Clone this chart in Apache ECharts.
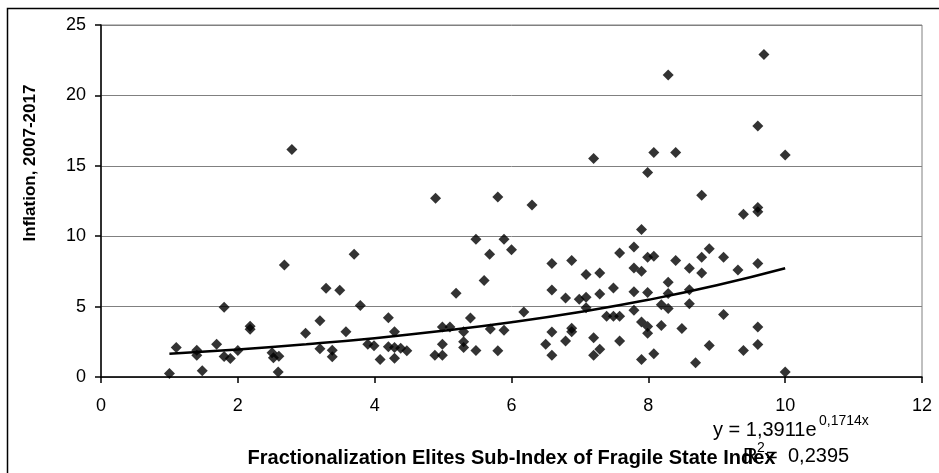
<!doctype html>
<html>
<head>
<meta charset="utf-8">
<title>Inflation vs Fractionalization Elites</title>
<script src="https://cdn.jsdelivr.net/npm/echarts@6/dist/echarts.min.js"></script>
<style>
  html, body { margin: 0; height: 100%; background: #fff; }
  #chart { width: 939px; height: 473px; }
</style>
</head>
<body>
<div id="chart"></div>
<script>
// Fractionalization Elites sub-index (x) and inflation 2007-2017 (y)
const elites = [
  1.0, 1.1, 1.4, 1.4, 1.48, 1.69, 1.8, 1.8, 1.89, 2.0,
  2.18, 2.18, 2.5, 2.52, 2.6, 2.59, 2.68, 2.79, 2.99, 3.2,
  3.2, 3.29, 3.38, 3.38, 3.49, 3.58, 3.7, 3.79, 3.9, 3.99,
  4.08, 4.2, 4.2, 4.29, 4.29, 4.29, 4.38, 4.47, 4.88, 4.89,
  4.99, 4.99, 4.99, 5.1, 5.19, 5.3, 5.3, 5.3, 5.4, 5.48,
  5.48, 5.6, 5.68, 5.69, 5.8, 5.8, 5.89, 5.89, 6.0, 6.18,
  6.3, 6.5, 6.59, 6.59, 6.59, 6.59, 6.79, 6.79, 6.88, 6.88,
  6.88, 6.99, 7.09, 7.09, 7.09, 7.2, 7.2, 7.2, 7.29, 7.29,
  7.29, 7.39, 7.49, 7.49, 7.58, 7.58, 7.58, 7.79, 7.79, 7.79,
  7.79, 7.9, 7.9, 7.9, 7.9, 7.99, 7.99, 7.99, 7.99, 7.99,
  8.08, 8.08, 8.08, 8.19, 8.19, 8.29, 8.29, 8.29, 8.29, 8.4,
  8.4, 8.49, 8.6, 8.6, 8.6, 8.69, 8.78, 8.78, 8.78, 8.89,
  8.89, 9.1, 9.1, 9.31, 9.39, 9.39, 9.6, 9.6, 9.6, 9.6,
  9.6, 9.6, 9.69, 10.0, 10.0
];
const inflation = [
  0.25, 2.1, 1.9, 1.55, 0.45, 2.33, 4.95, 1.45, 1.31, 1.88,
  3.6, 3.4, 1.72, 1.37, 1.47, 0.36, 7.95, 16.16, 3.1, 4.0,
  2.0, 6.3, 1.9, 1.44, 6.17, 3.22, 8.71, 5.08, 2.32, 2.22,
  1.24, 4.2, 2.15, 3.22, 2.09, 1.33, 2.05, 1.87, 1.54, 12.7,
  3.55, 2.32, 1.54, 3.55, 5.95, 3.22, 2.5, 2.1, 4.19, 9.79,
  1.88, 6.85, 8.72, 3.41, 12.79, 1.87, 9.79, 3.32, 9.03, 4.62,
  12.22, 2.32, 8.06, 6.18, 3.2, 1.55, 5.61, 2.55, 8.28, 3.46,
  3.22, 5.53, 7.28, 5.66, 4.92, 15.52, 2.78, 1.55, 7.39, 5.9,
  1.97, 4.31, 6.32, 4.31, 8.81, 4.31, 2.55, 9.24, 7.75, 6.06,
  4.74, 10.47, 7.51, 3.91, 1.24, 14.53, 8.51, 6.0, 3.58, 3.1,
  15.95, 8.58, 1.66, 5.13, 3.66, 21.44, 6.73, 5.93, 4.86, 15.95,
  8.28, 3.44, 7.72, 6.2, 5.21, 1.02, 12.9, 8.51, 7.39, 9.1,
  2.23, 8.51, 4.44, 7.6, 11.56, 1.89, 17.82, 12.04, 11.73, 8.06,
  3.55, 2.31, 22.91, 15.76, 0.36
];

// exponential trend line as drawn (y = 1,3911e^0,1714x)
const trendX = [1, 2, 3, 4, 5, 6, 7, 8, 9, 10];
const trendY = [1.65, 1.96, 2.33, 2.76, 3.28, 3.89, 4.62, 5.48, 6.51, 7.72];

const xTitle = 'Fractionalization Elites Sub-Index of Fragile State Index';
const yTitle = 'Inflation, 2007-2017';

const chart = echarts.init(document.getElementById('chart'));
const font = 'Liberation Sans, Arial, sans-serif';

const points = elites.map((x, i) => [x, inflation[i]]);
const trend = trendX.map((x, i) => [x, trendY[i]]);

chart.setOption({
  animation: false,
  backgroundColor: '#ffffff',
  textStyle: { fontFamily: font },
  grid: {
    left: 101, right: 17, top: 25, bottom: 96,
    show: true, borderColor: '#808080', borderWidth: 1
  },
  xAxis: {
    type: 'value', min: 0, max: 12, interval: 2,
    name: xTitle, nameLocation: 'middle', nameGap: 71,
    nameTextStyle: { fontFamily: font, fontSize: 20, fontWeight: 'bold', color: '#000' },
    axisLine: { lineStyle: { color: '#000', width: 1.5 } },
    axisTick: { show: true, length: 6, lineStyle: { color: '#000', width: 1.5 } },
    axisLabel: { fontFamily: font, fontSize: 18, color: '#000', margin: 20 },
    splitLine: { show: false }
  },
  yAxis: {
    type: 'value', min: 0, max: 25, interval: 5,
    axisLine: { show: true, lineStyle: { color: '#000', width: 1.5 } },
    axisTick: { show: true, length: 6, lineStyle: { color: '#000', width: 1.5 } },
    axisLabel: { fontFamily: font, fontSize: 18, color: '#000', margin: 15 },
    splitLine: { show: true, lineStyle: { color: '#808080', width: 1 } }
  },
  series: [
    {
      type: 'scatter',
      data: points,
      symbol: 'diamond',
      symbolSize: 11,
      itemStyle: { color: '#000' },
      z: 3
    },
    {
      type: 'line',
      data: trend,
      smooth: true,
      showSymbol: false,
      lineStyle: { color: '#000', width: 2.5 },
      z: 4
    }
  ],
  graphic: [
    // outer chart frame
    { type: 'rect', shape: { x: 7.5, y: 8.5, width: 1000, height: 1000 },
      style: { fill: null, stroke: '#000', lineWidth: 1.5 }, silent: true },
    { type: 'text', x: 30, y: 163, rotation: Math.PI / 2,
      style: { text: yTitle, font: 'bold 17px ' + font, fill: '#000', align: 'center', verticalAlign: 'middle' } },
    { type: 'text', x: 713, y: 430,
      style: { text: 'y = 1,3911e', font: '20px ' + font, fill: '#000', align: 'left', verticalAlign: 'middle' } },
    { type: 'text', x: 819, y: 421,
      style: { text: '0,1714x', font: '14px ' + font, fill: '#000', align: 'left', verticalAlign: 'middle' } },
    { type: 'text', x: 743, y: 456,
      style: { text: 'R', font: '20px ' + font, fill: '#000', align: 'left', verticalAlign: 'middle' } },
    { type: 'text', x: 757, y: 448,
      style: { text: '2', font: '14px ' + font, fill: '#000', align: 'left', verticalAlign: 'middle' } },
    { type: 'text', x: 766, y: 456,
      style: { text: '=', font: '20px ' + font, fill: '#000', align: 'left', verticalAlign: 'middle' } },
    { type: 'text', x: 788, y: 456,
      style: { text: '0,2395', font: '20px ' + font, fill: '#000', align: 'left', verticalAlign: 'middle' } }
  ]
});
</script>
</body>
</html>
